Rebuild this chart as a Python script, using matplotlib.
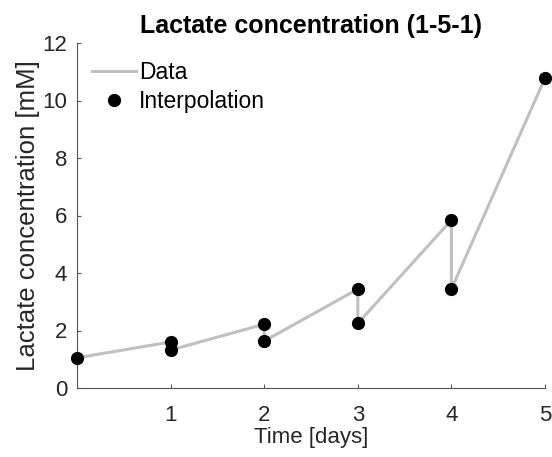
import numpy as np
import matplotlib
matplotlib.use("Agg")
import matplotlib.pyplot as plt

plt.rcParams['font.family'] = ['Liberation Sans', 'DejaVu Sans']

# data
days = [0, 1, 1, 2, 2, 3, 3, 4, 4, 5]
lactate = [1.05, 1.6, 1.32, 2.22, 1.63, 3.44, 2.25, 5.84, 3.44, 10.78]
xticks = [1, 2, 3, 4, 5]
yticks = [0, 2, 4, 6, 8, 10, 12]

fig = plt.figure(figsize=(5.52, 4.57), dpi=100)
ax = fig.add_axes([77 / 552, 1 - 388 / 457, (545 - 77) / 552, (388 - 43) / 457])

ax.plot(days, lactate, color='#c0c0c0', lw=2.2, label='Data', zorder=2)
ax.plot(days, lactate, 'o', color='black', ms=8.5, label='Interpolation',
        clip_on=False, zorder=3)

ax.set_xlim(0, 5)
ax.set_ylim(0, 12)
ax.set_xticks(xticks)
ax.set_yticks(yticks)
ax.tick_params(direction='in', length=3, width=0.8, colors='#555555',
               labelsize=16, labelcolor='#262626')
ax.tick_params(axis='x', pad=12)
ax.tick_params(axis='y', pad=7)
for s in ['top', 'right']:
    ax.spines[s].set_visible(False)
for s in ['left', 'bottom']:
    ax.spines[s].set_color('#555555')
    ax.spines[s].set_linewidth(0.8)

ax.set_xlabel('Time [days]', fontsize=16, color='#262626', labelpad=1)
ax.set_ylabel('Lactate concentration [mM]', fontsize=18.5, color='#262626',
              labelpad=2)
ax.set_title('Lactate concentration (1-5-1)', fontsize=18,
             fontweight='bold', pad=7)

ax.legend(loc='upper left', frameon=False, fontsize=16.5,
          handlelength=1.9, handletextpad=0.15, labelspacing=0.27,
          borderpad=0, borderaxespad=0, bbox_to_anchor=(0.032, 0.948))

fig.savefig('out.png', dpi=100)
